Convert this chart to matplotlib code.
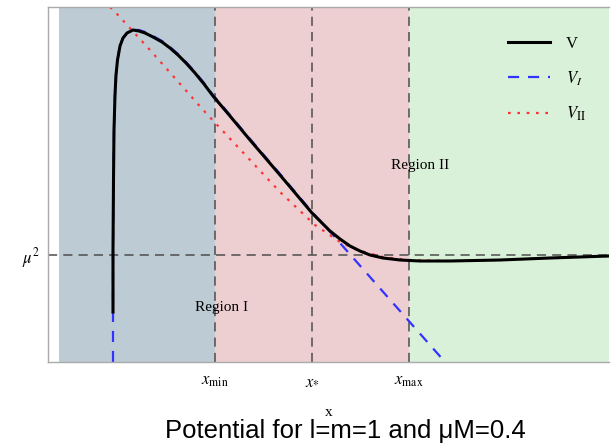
import matplotlib
matplotlib.use("Agg")
import matplotlib.pyplot as plt

plt.rcParams["mathtext.fontset"] = "stix"
plt.rcParams["font.family"] = "serif"
plt.rcParams["font.serif"] = ["Liberation Serif", "DejaVu Serif"]

# --- data (arbitrary units) ---
x_lo, x_hi = 0.0, 5.61
y_lo, y_hi = 0.0, 3.55
mu2 = 1.07
x_shade_start = 0.11
x_min, x_star, x_max = 1.67, 2.64, 3.61

# full potential V
v_x = [0.65, 0.65, 0.655, 0.66, 0.67, 0.68, 0.695, 0.72, 0.75, 0.79, 0.85,
       0.91, 0.97, 1.05, 1.14, 1.22, 1.30, 1.38, 1.47, 1.56, 1.65, 1.82,
       2.02, 2.32, 2.64, 2.74, 2.82, 2.92, 3.02, 3.12, 3.22, 3.35, 3.52,
       3.72, 4.02, 4.52, 5.02, 5.61]
v_y = [0.50, 1.12, 1.82, 2.32, 2.67, 2.87, 3.02, 3.16, 3.24, 3.29, 3.32,
       3.31, 3.29, 3.25, 3.20, 3.14, 3.07, 2.99, 2.89, 2.78, 2.66, 2.46,
       2.22, 1.87, 1.49, 1.39, 1.31, 1.23, 1.16, 1.11, 1.07, 1.04, 1.02,
       1.01, 1.01, 1.02, 1.04, 1.06]

# region I approximation V_I
vi_x = [0.65, 0.65, 0.655, 0.66, 0.67, 0.68, 0.695, 0.72, 0.75, 0.79, 0.85,
        0.91, 0.97, 1.05, 1.14, 1.22, 1.30, 1.38, 1.47, 1.56, 1.65, 1.82,
        2.02, 2.32, 2.64, 2.77, 3.97]
vi_y = [0.00, 1.12, 1.82, 2.32, 2.67, 2.87, 3.02, 3.16, 3.24, 3.29, 3.32,
        3.32, 3.30, 3.26, 3.21, 3.15, 3.08, 3.00, 2.90, 2.79, 2.67, 2.47,
        2.23, 1.88, 1.50, 1.36, 0.00]

# region II approximation V_II
vii_x = [0.62, 0.70, 1.02, 1.57, 2.02, 2.32, 2.67, 2.92, 3.09, 3.35, 3.61,
         4.02, 4.52, 5.02, 5.61]
vii_y = [3.55, 3.47, 3.12, 2.50, 2.02, 1.70, 1.37, 1.20, 1.12, 1.05, 1.02,
         1.01, 1.02, 1.04, 1.06]

tick_pos = [x_min, x_star, x_max]
tick_labels = [r"$x_{\mathrm{min}}$", r"$x_{*}$", r"$x_{\mathrm{max}}$"]

fig = plt.figure(figsize=(6.13, 4.46), dpi=100)
ax = fig.add_axes([48 / 613, 84 / 446, 561 / 613, 355 / 446])

# background regions
ax.axvspan(x_shade_start, x_min, color="#bdccd4", lw=0, zorder=0)
ax.axvspan(x_min, x_max, color="#edcfd1", lw=0, zorder=0)
ax.axvspan(x_max, x_hi, color="#d9f0d9", lw=0, zorder=0)

# reference lines
dash = dict(color="#4d4d4d", lw=1.1, dashes=(6, 4), zorder=1)
ax.axhline(mu2, **dash)
for xv in tick_pos:
    ax.axvline(xv, **dash)

# curves
ax.plot(vi_x, vi_y, color="#3333ff", lw=1.6, dashes=(5, 4), zorder=2, label=r"$V_I$")
ax.plot(vii_x, vii_y, color="#ff3333", lw=1.6, dashes=(1.2, 3.0), zorder=2,
        label=r"$V_{\mathrm{II}}$")
ax.plot(v_x, v_y, color="black", lw=2.2, zorder=3, solid_joinstyle="round",
        label="V")

ax.text(1.74, 0.55, "Region I", fontsize=11, ha="center", va="center")
ax.text(3.72, 1.97, "Region II", fontsize=11, ha="center", va="center")

ax.set_xlim(x_lo, x_hi)
ax.set_ylim(y_lo, y_hi)
ax.set_xticks(tick_pos)
ax.set_xticklabels(tick_labels, fontsize=12)
ax.set_yticks([mu2])
ax.set_yticklabels([r"$\mu^2$"], fontsize=12)
ax.tick_params(length=0, pad=8)
ax.tick_params(axis="y", pad=6)
ax.set_xlabel("x", fontsize=11, labelpad=12)

for side in ["left", "top", "bottom"]:
    ax.spines[side].set_color("#aaaaaa")
    ax.spines[side].set_linewidth(1.0)
ax.spines["right"].set_visible(False)

handles, labels = ax.get_legend_handles_labels()
order = [2, 0, 1]
ax.legend([handles[i] for i in order], [labels[i] for i in order],
          loc="upper right", bbox_to_anchor=(1.0, 0.985), frameon=False,
          fontsize=12, handlelength=2.5, labelspacing=1.05,
          handletextpad=0.95, borderaxespad=1.0)

fig.text(345 / 613, 1 - 431 / 446, "Potential for l=m=1 and \u03bcM=0.4",
         family="Liberation Sans", fontsize=18.5, ha="center", va="center")

plt.savefig("out.png", dpi=100)
